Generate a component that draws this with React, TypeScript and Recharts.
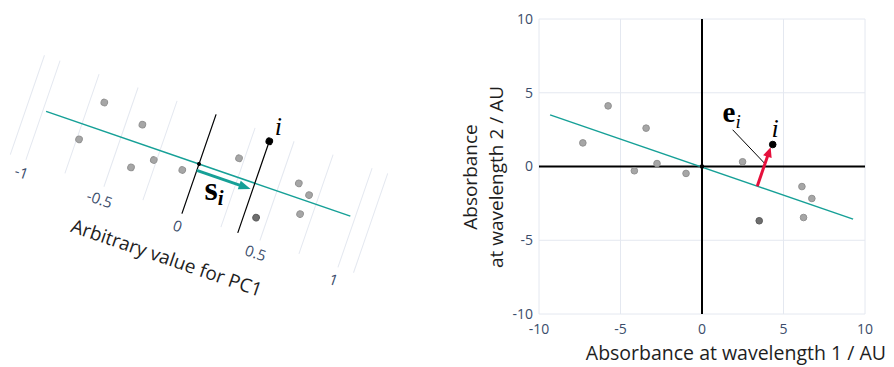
import React from 'react';
import {
  ScatterChart,
  Scatter,
  XAxis,
  YAxis,
  CartesianGrid,
  ReferenceLine,
  ReferenceDot,
} from 'recharts';

const TEAL = '#16a097';
const RED = '#e6103c';
const GRID = '#e4e8f0';
const TICK = '#3b4d6b';
const TITLE = '#1e1e1e';
const FONT = '"Open Sans", "Noto Sans", sans-serif';
const MATH = '"Liberation Serif", "DejaVu Serif", serif';

// ---------- Right panel (absorbance space) ----------
const rightTicks = [-10, -5, 0, 5, 10];
const rightGrayPoints = [
  { x: -7.31, y: 1.6 },
  { x: -5.76, y: 4.11 },
  { x: -3.43, y: 2.6 },
  { x: -2.76, y: 0.2 },
  { x: -4.15, y: -0.29 },
  { x: -0.98, y: -0.47 },
  { x: 2.49, y: 0.32 },
  { x: 6.13, y: -1.36 },
  { x: 6.74, y: -2.17 },
  { x: 6.23, y: -3.46 },
];
const rightDarkPoints = [{ x: 3.51, y: -3.68 }];
const rightSamplePoint = [{ x: 4.34, y: 1.49 }];
const rightPcLine = [
  { x: -9.32, y: 3.5 },
  { x: 9.27, y: -3.57 },
];
const rightResidualArrow = [
  { x: 3.39, y: -1.34 },
  { x: 4.21, y: 1.31 },
];
const rightLeaderLine = [
  { x: 1.88, y: 2.49 },
  { x: 3.87, y: 0.18 },
];
const rightResidualLabelPos = { x: 1.82, y: 3.0 };
const rightSampleLabelPos = { x: 4.48, y: 1.99 };

// ---------- Left panel (PC1 frame, rotated) ----------
const leftGridTicks = [-1, -0.75, -0.5, -0.25, 0, 0.25, 0.5, 0.75, 1];
const leftLabelTicks = [-1, -0.5, 0, 0.5, 1];
const leftGrayPoints = [
  { x: -0.664, y: 1.82 },
  { x: -0.736, y: -1.05 },
  { x: -0.402, y: 1.25 },
  { x: -0.383, y: -1.69 },
  { x: -0.267, y: -0.73 },
  { x: -0.084, y: -0.74 },
  { x: 0.218, y: 1.23 },
  { x: 0.61, y: 0.95 },
  { x: 0.692, y: 0.43 },
  { x: 0.678, y: -0.96 },
];
const leftDarkPoints = [{ x: 0.433, y: -2.14 }];
const leftSamplePoint = [{ x: 0.358, y: 2.96 }];
const leftPcLine = [
  { x: -0.98, y: 0 },
  { x: 0.97, y: 0 },
];
const leftProjectionLine = [
  { x: 0.358, y: 2.96 },
  { x: 0.358, y: -3.5 },
];
const leftScoreArrow = [
  { x: 0, y: -0.45 },
  { x: 0.345, y: -0.45 },
];
const leftScoreLabelPos = { x: 0.158, y: -1.96 };
const leftSampleLabelPos = { x: 0.398, y: 3.53 };

const ROT = 19;

const dotShape = (fill: string, stroke: string, r: number) => (p: any) => (
  <circle cx={p.cx} cy={p.cy} r={r} fill={fill} stroke={stroke} strokeWidth={1} />
);

const arrowShape = (color: string, w: number, headLen: number, headHalf: number) => (props: any) => {
  const { x1, y1, x2, y2 } = props;
  const dx = x2 - x1;
  const dy = y2 - y1;
  const len = Math.hypot(dx, dy) || 1;
  const ux = dx / len;
  const uy = dy / len;
  const bx = x2 - ux * headLen;
  const by = y2 - uy * headLen;
  const px = -uy;
  const py = ux;
  return (
    <g>
      <line x1={x1} y1={y1} x2={bx + ux} y2={by + uy} stroke={color} strokeWidth={w} />
      <polygon
        points={`${x2},${y2} ${bx + px * headHalf},${by + py * headHalf} ${bx - px * headHalf},${by - py * headHalf}`}
        fill={color}
      />
    </g>
  );
};

const plainLine = (color: string, w: number) => (props: any) => (
  <line x1={props.x1} y1={props.y1} x2={props.x2} y2={props.y2} stroke={color} strokeWidth={w} />
);

const italicLabel = (text: string, size: number, rot: number) => (p: any) => (
  <text
    x={p.cx}
    y={p.cy}
    textAnchor="middle"
    fontFamily={MATH}
    fontStyle="italic"
    fontSize={size}
    fill="#000"
    transform={rot ? `rotate(${rot} ${p.cx} ${p.cy})` : undefined}
  >
    {text}
  </text>
);

const vecLabel = (
  main: string,
  sub: string,
  size: number,
  subSize: number,
  subDy: number,
  subWeight: string,
  rot: number
) => (p: any) => (
  <text
    x={p.cx}
    y={p.cy}
    textAnchor="middle"
    fontFamily={MATH}
    fill="#000"
    transform={rot ? `rotate(${rot} ${p.cx} ${p.cy})` : undefined}
  >
    <tspan fontWeight="bold" fontSize={size}>
      {main}
    </tspan>
    <tspan fontStyle="italic" fontWeight={subWeight} fontSize={subSize} dy={subDy}>
      {sub}
    </tspan>
  </text>
);

function LeftPanel() {
  return (
    <div
      style={{
        position: 'absolute',
        left: -21,
        top: 43.7,
        width: 440,
        height: 240,
        transform: `rotate(${ROT}deg)`,
        transformOrigin: '220px 120px',
      }}
    >
      <ScatterChart width={440} height={240} margin={{ top: 67.5, right: 38.5, bottom: 0, left: 38.5 }}>
        <CartesianGrid horizontal={false} stroke={GRID} strokeWidth={1} />
        <XAxis
          type="number"
          dataKey="x"
          domain={[-1.1, 1.1]}
          ticks={leftGridTicks}
          tickFormatter={(v: number) => (leftLabelTicks.includes(v) ? String(v) : '')}
          axisLine={false}
          tickLine={false}
          height={67.5}
          tick={{ fontSize: 15, fill: TICK, fontFamily: FONT }}
          interval={0}
          label={{
            value: 'Arbitrary value for PC1',
            position: 'insideTop',
            offset: 40,
            fontSize: 19,
            fill: TITLE,
            fontFamily: FONT,
          }}
        />
        <YAxis type="number" dataKey="y" domain={[-3.5, 3.5]} hide />
        <ReferenceLine x={0} stroke="#000" strokeWidth={1.2} />
        <ReferenceLine segment={leftPcLine} shape={plainLine(TEAL, 1.5)} ifOverflow="visible" />
        <ReferenceLine segment={leftProjectionLine} shape={plainLine('#000', 1.2)} ifOverflow="visible" />
        <ReferenceLine segment={leftScoreArrow} shape={arrowShape(TEAL, 3, 12, 4.5)} ifOverflow="visible" />
        <Scatter data={leftGrayPoints} shape={dotShape('#a6a6a6', '#929292', 3.3)} isAnimationActive={false} />
        <Scatter data={leftDarkPoints} shape={dotShape('#6e6e6e', '#5c5c5c', 3.3)} isAnimationActive={false} />
        <Scatter data={leftSamplePoint} shape={dotShape('#000', '#000', 3.3)} isAnimationActive={false} />
        <ReferenceDot x={0} y={0} r={2} fill="#000" stroke="none" ifOverflow="visible" />
        <ReferenceDot
          x={leftScoreLabelPos.x}
          y={leftScoreLabelPos.y}
          ifOverflow="visible"
          shape={vecLabel('s', 'i', 34, 21, 5, 'bold', -ROT)}
        />
        <ReferenceDot
          x={leftSampleLabelPos.x}
          y={leftSampleLabelPos.y}
          ifOverflow="visible"
          shape={italicLabel('i', 26, -ROT)}
        />
      </ScatterChart>
    </div>
  );
}

function RightPanel() {
  return (
    <div style={{ position: 'absolute', left: 460, top: 0, width: 434, height: 367 }}>
      <ScatterChart width={434} height={367} margin={{ top: 19, right: 29, bottom: 0, left: 0 }}>
        <CartesianGrid stroke={GRID} strokeWidth={1} />
        <XAxis
          type="number"
          dataKey="x"
          domain={[-10, 10]}
          ticks={rightTicks}
          axisLine={false}
          tickLine={false}
          tickMargin={4}
          height={53}
          tick={{ fontSize: 14, fill: TICK, fontFamily: FONT }}
          interval={0}
        />
        <YAxis
          type="number"
          dataKey="y"
          domain={[-10, 10]}
          ticks={rightTicks}
          axisLine={false}
          tickLine={false}
          tickSize={4}
          tickMargin={2}
          width={79}
          tick={{ fontSize: 14, fill: TICK, fontFamily: FONT }}
          interval={0}
        />
        <ReferenceLine x={0} stroke="#000" strokeWidth={2} />
        <ReferenceLine y={0} stroke="#000" strokeWidth={2} />
        <ReferenceLine segment={rightPcLine} shape={plainLine(TEAL, 1.5)} ifOverflow="visible" />
        <ReferenceLine segment={rightLeaderLine} shape={plainLine('#000', 1)} ifOverflow="visible" />
        <ReferenceLine segment={rightResidualArrow} shape={arrowShape(RED, 3, 10, 4.5)} ifOverflow="visible" />
        <Scatter data={rightGrayPoints} shape={dotShape('#a6a6a6', '#929292', 3.3)} isAnimationActive={false} />
        <Scatter data={rightDarkPoints} shape={dotShape('#6e6e6e', '#5c5c5c', 3.3)} isAnimationActive={false} />
        <Scatter data={rightSamplePoint} shape={dotShape('#000', '#000', 3.3)} isAnimationActive={false} />
        <ReferenceDot x={0} y={0} r={2.2} fill="#000" stroke="none" ifOverflow="visible" />
        <ReferenceDot
          x={rightResidualLabelPos.x}
          y={rightResidualLabelPos.y}
          ifOverflow="visible"
          shape={vecLabel('e', 'i', 29, 19, 6, 'normal', 0)}
        />
        <ReferenceDot
          x={rightSampleLabelPos.x}
          y={rightSampleLabelPos.y}
          ifOverflow="visible"
          shape={italicLabel('i', 26, 0)}
        />
      </ScatterChart>
    </div>
  );
}

export default function App() {
  return (
    <div
      style={{
        position: 'absolute',
        left: 0,
        top: 0,
        width: 894,
        height: 367,
        overflow: 'hidden',
        background: '#fff',
        fontFamily: FONT,
      }}
    >
      <LeftPanel />
      <RightPanel />
      <div
        style={{
          position: 'absolute',
          left: 353,
          top: 150.7,
          width: 260,
          height: 52,
          transform: 'rotate(-90deg)',
          transformOrigin: '130px 26px',
          textAlign: 'center',
          fontSize: 19,
          lineHeight: '26px',
          color: TITLE,
          whiteSpace: 'nowrap',
        }}
      >
        <div>Absorbance</div>
        <div>at wavelength 2 / AU</div>
      </div>
      <div
        style={{
          position: 'absolute',
          left: 480,
          top: 342,
          width: 406,
          height: 22,
          textAlign: 'right',
          fontSize: 19.5,
          lineHeight: '22px',
          color: TITLE,
          whiteSpace: 'nowrap',
        }}
      >
        Absorbance at wavelength 1 / AU
      </div>
    </div>
  );
}
